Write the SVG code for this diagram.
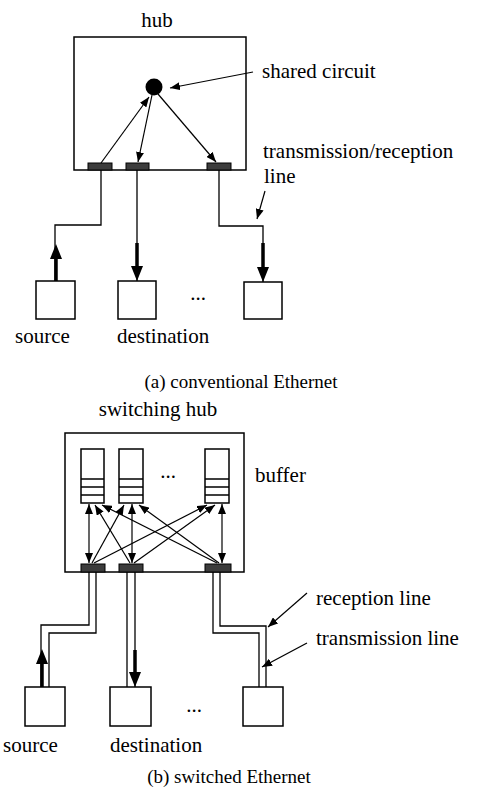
<svg xmlns="http://www.w3.org/2000/svg" width="479" height="793" viewBox="0 0 479 793">
<defs>
<marker id="ah" viewBox="0 0 10 8" refX="10" refY="4" markerWidth="10" markerHeight="8" markerUnits="userSpaceOnUse" orient="auto-start-reverse">
<path d="M0,0 L10,4 L0,8 Z" fill="#000"/>
</marker>
</defs>
<style>
text{font-family:"Liberation Serif","Times New Roman",serif;font-size:21px;fill:#000}
.cap{font-size:19px}
.box{fill:#fff;stroke:#000;stroke-width:1.5}
.port{fill:#3c3c3c;stroke:#000;stroke-width:1}
.w{fill:none;stroke:#000;stroke-width:1.3}
.a{stroke:#000;stroke-width:1.2;marker-end:url(#ah)}
.a2{stroke:#000;stroke-width:1.2;marker-end:url(#ah);marker-start:url(#ah)}
.thick{stroke:#000;stroke-width:3.5}
.head{fill:#000}
</style>
<g id="hub">
<text x="157" y="27" text-anchor="middle">hub</text>
<rect class="box" x="74" y="37" width="172" height="133"/>
<circle cx="154" cy="87" r="8.5" fill="#000"/>
<rect class="port" x="88" y="163" width="24" height="7"/>
<rect class="port" x="126" y="163" width="23" height="7"/>
<rect class="port" x="207" y="163" width="24" height="7"/>
</g>
<g id="a-source"><rect class="box" x="36" y="281" width="39" height="38"/><text x="15" y="343">source</text></g>
<g id="a-destination"><rect class="box" x="118" y="281" width="38" height="38"/><text x="117" y="343">destination</text></g>
<g id="a-node3"><rect class="box" x="244" y="282" width="38" height="37"/></g>
<text x="198" y="300" text-anchor="middle">...</text>
<text x="262" y="78">shared circuit</text>
<text x="263" y="158">transmission/reception</text>
<text x="264" y="183">line</text>
<text class="cap" x="241" y="388" text-anchor="middle">(a) conventional Ethernet</text>
<g id="switching-hub">
<text x="158" y="416" text-anchor="middle">switching hub</text>
<rect class="box" x="65" y="433" width="179" height="139"/>
<g id="buffer1"><rect class="box" x="81" y="449" width="23" height="54"/><path class="w" d="M81,479H104M81,487H104M81,495H104"/></g>
<g id="buffer2"><rect class="box" x="119" y="449" width="24" height="54"/><path class="w" d="M119,479H143M119,487H143M119,495H143"/></g>
<g id="buffer3"><rect class="box" x="205" y="449" width="24" height="54"/><path class="w" d="M205,479H229M205,487H229M205,495H229"/></g>
<rect class="port" x="81" y="564" width="24" height="8"/>
<rect class="port" x="119" y="564" width="24" height="8"/>
<rect class="port" x="205" y="564" width="26" height="8"/>
</g>
<text x="168" y="478" text-anchor="middle">...</text>
<text x="255" y="482">buffer</text>
<g id="b-source"><rect class="box" x="25" y="687" width="40" height="39"/><text x="3" y="752">source</text></g>
<g id="b-destination"><rect class="box" x="110" y="687" width="41" height="39"/><text x="110" y="752">destination</text></g>
<g id="b-node3"><rect class="box" x="243" y="687" width="40" height="39"/></g>
<text x="194" y="712" text-anchor="middle">...</text>
<text x="316" y="605">reception line</text>
<text x="316" y="645">transmission line</text>
<text class="cap" x="229" y="783" text-anchor="middle">(b) switched Ethernet</text>
<g id="connectors">
<line class="a" x1="101" y1="163" x2="149" y2="97"/>
<line class="a" x1="152" y1="95" x2="138" y2="162"/>
<line class="a" x1="158" y1="94" x2="216" y2="162"/>
<line class="a" x1="253" y1="72" x2="170" y2="88"/>
<line class="a" x1="265" y1="191" x2="257" y2="219"/>
<polyline class="w" points="101,170 101,225 55,225 55,281"/>
<line class="thick" x1="56" y1="281" x2="56" y2="257"/>
<polygon class="head" points="56,244 50,259 62,259"/>
<line class="w" x1="137" y1="170" x2="137" y2="281"/>
<line class="thick" x1="137" y1="243" x2="137" y2="268"/>
<polygon class="head" points="137,281 131,266 143,266"/>
<polyline class="w" points="219,170 219,226 263,226 263,282"/>
<line class="thick" x1="263" y1="243" x2="263" y2="268"/>
<polygon class="head" points="263,282 257,267 269,267"/>
<line class="a2" x1="89" y1="504" x2="89" y2="563"/>
<line class="a2" x1="132" y1="504" x2="132" y2="563"/>
<line class="a2" x1="222" y1="504" x2="222" y2="563"/>
<line class="a" x1="130" y1="563" x2="95" y2="505"/>
<line class="a" x1="217" y1="563" x2="102" y2="505"/>
<line class="a" x1="92" y1="563" x2="124" y2="505"/>
<line class="a" x1="219" y1="563" x2="139" y2="505"/>
<line class="a" x1="94" y1="563" x2="207" y2="505"/>
<line class="a" x1="134" y1="563" x2="215" y2="505"/>
<polyline class="w" points="89,572 89,625 41,625 41,687"/>
<polyline class="w" points="96,572 96,633 49,633 49,687"/>
<line class="thick" x1="42" y1="687" x2="42" y2="662"/>
<polygon class="head" points="42,649 36,664 48,664"/>
<line class="w" x1="127" y1="572" x2="127" y2="687"/>
<line class="w" x1="135" y1="572" x2="135" y2="687"/>
<line class="thick" x1="135" y1="650" x2="135" y2="674"/>
<polygon class="head" points="135,687 129,672 141,672"/>
<polyline class="w" points="220,572 220,626 266,626 266,687"/>
<polyline class="w" points="213,572 213,633 259,633 259,687"/>
<line class="a" x1="307" y1="593" x2="268" y2="627"/>
<line class="a" x1="307" y1="643" x2="262" y2="667"/>
</g>
</svg>
